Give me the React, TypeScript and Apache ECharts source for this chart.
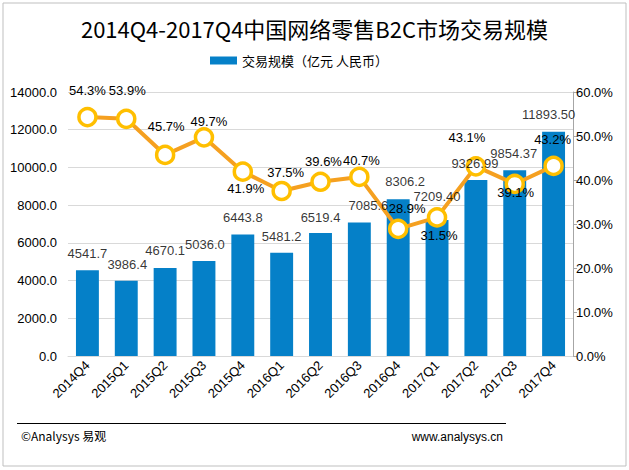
import React, { useEffect, useRef } from 'react';
import * as echarts from 'echarts';

const categories = ['2014Q4', '2015Q1', '2015Q2', '2015Q3', '2015Q4', '2016Q1', '2016Q2', '2016Q3', '2016Q4', '2017Q1', '2017Q2', '2017Q3', '2017Q4'];
// 交易规模（亿元）
const tradeScale = [4541.7, 3986.4, 4670.1, 5036.0, 6443.8, 5481.2, 6519.4, 7085.6, 8306.2, 7209.4, 9326.99, 9854.37, 11893.5];
const tradeScaleText = ['4541.7', '3986.4', '4670.1', '5036.0', '6443.8', '5481.2', '6519.4', '7085.6', '8306.2', '7209.40', '9326.99', '9854.37', '11893.50'];
// 同比增长率（%）
const growthRate = [54.3, 53.9, 45.7, 49.7, 41.9, 37.5, 39.6, 40.7, 28.9, 31.5, 43.1, 39.1, 43.2];

const leftTicks = { min: 0, max: 14000, interval: 2000 };
const rightTicks = { min: 0, max: 60, interval: 10 };

// label nudges so the texts sit where the original puts them
const barLabelNudge = [[0, 0], [1, 0], [0, -1], [1, 0], [0, 0], [0, 0], [0, 1], [9, 0], [7, -1], [0, -7], [-1, 0], [-1, 0], [-5, -1]];
const rateLabelNudge = [[0, -5], [1, -7], [1, -7], [5, 6], [3, 39], [4, 3], [3, 1], [2, 5], [9, 1], [2, 40], [-9, -7], [1, 30], [-1, -5]];

const FONT = '"Liberation Sans", "Noto Sans CJK SC", sans-serif';
const CJK = '"Noto Sans CJK SC", "Liberation Sans", sans-serif';

const App = function () {
  const chartDom = useRef<HTMLDivElement>(null);

  useEffect(() => {
    document.body.style.margin = '0';
    const chart = echarts.init(chartDom.current!, null, { renderer: 'svg' });

    const option: echarts.EChartsOption = {
      animation: false,
      backgroundColor: '#fff',
      textStyle: { fontFamily: FONT },
      title: {
        text: '2014Q4-2017Q4中国网络零售B2C市场交易规模',
        left: 'center',
        top: 12,
        textStyle: { fontFamily: CJK, fontSize: 22, fontWeight: 'normal', color: '#000' },
      },
      legend: {
        left: 205,
        top: 49,
        itemWidth: 27,
        itemHeight: 8,
        itemGap: 8,
        icon: 'rect',
        textStyle: { fontFamily: CJK, fontSize: 13, color: '#000' },
        data: ['交易规模（亿元 人民币）'],
      },
      grid: { left: 68, right: 56, top: 92, bottom: 114 },
      xAxis: {
        type: 'category',
        data: categories,
        axisLine: { lineStyle: { color: '#d9d9d9' } },
        axisTick: { show: false },
        axisLabel: { rotate: 45, fontSize: 13, color: '#000', margin: 7, interval: 0 },
      },
      yAxis: [
        {
          type: 'value',
          ...leftTicks,
          axisLine: { show: false },
          axisTick: { show: false },
          splitLine: { lineStyle: { color: '#d9d9d9' } },
          axisLabel: { fontSize: 13, color: '#000', margin: 11, formatter: (v: number) => v.toFixed(1) },
        },
        {
          type: 'value',
          ...rightTicks,
          position: 'right',
          axisLine: { show: true, lineStyle: { color: '#a6a6a6' } },
          axisTick: { show: true, length: 4, lineStyle: { color: '#a6a6a6' } },
          splitLine: { show: false },
          axisLabel: { fontSize: 13, color: '#000', margin: 3, formatter: (v: number) => v.toFixed(1) + '%' },
        },
      ],
      series: [
        {
          name: '交易规模（亿元 人民币）',
          type: 'bar',
          barCategoryGap: '41%',
          itemStyle: { color: '#0580c8' },
          data: tradeScale,
          z: 1,
        },
        {
          name: '增长率',
          type: 'line',
          yAxisIndex: 1,
          symbol: 'circle',
          symbolSize: 17,
          z: 2,
          lineStyle: { color: '#f5a020', width: 4 },
          itemStyle: { color: '#fff', borderColor: '#ffbf00', borderWidth: 3.5 },
          data: growthRate.map((v, i) => ({
            value: v,
            label: { offset: rateLabelNudge[i] },
          })),
          label: {
            show: true,
            position: 'top',
            distance: 5,
            fontSize: 13,
            color: '#000',
            formatter: (p: any) => p.value.toFixed(1) + '%',
          },
        },
        {
          // carries the bar value labels above the line markers
          name: 'barLabels',
          type: 'scatter',
          symbolSize: 0,
          silent: true,
          z: 5,
          itemStyle: { color: 'transparent' },
          data: tradeScale.map((v, i) => ({
            value: v,
            label: { offset: barLabelNudge[i] },
          })),
          label: {
            show: true,
            position: 'top',
            distance: 10,
            fontSize: 13,
            color: '#000',
            formatter: (p: any) => tradeScaleText[p.dataIndex],
          },
        },
      ],
      graphic: [
        {
          type: 'rect',
          shape: { x: 3, y: 3, width: 623, height: 463 },
          style: { fill: 'none', stroke: '#bfbfbf', lineWidth: 1 },
          silent: true,
        },
        {
          type: 'line',
          shape: { x1: 17, y1: 423.5, x2: 506, y2: 423.5 },
          style: { stroke: '#000', lineWidth: 1 },
        },
        {
          type: 'text',
          left: 21,
          top: 429,
          style: { text: '©Analysys 易观', font: '12px ' + CJK, fill: '#000' },
        },
        {
          type: 'text',
          right: 126,
          top: 431,
          style: { text: 'www.analysys.cn', font: '12px ' + FONT, fill: '#000' },
        },
      ],
    };

    chart.setOption(option);
    return () => {
      chart.dispose();
    };
  }, []);

  return <div ref={chartDom} style={{ width: 629, height: 470 }} />;
};

export default App;
